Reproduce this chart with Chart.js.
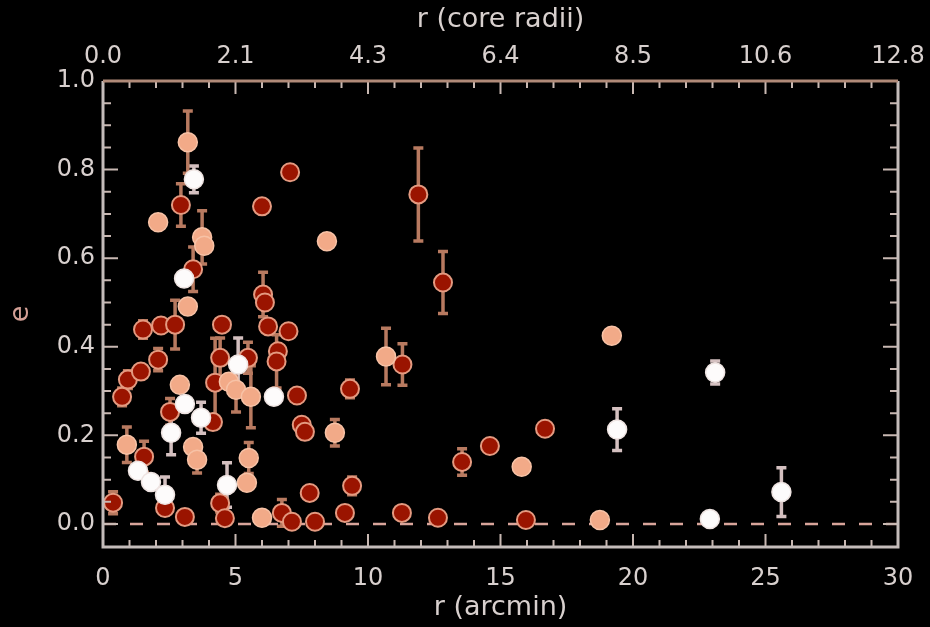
<!DOCTYPE html>
<html>
<head>
<meta charset="utf-8">
<script src="https://cdn.jsdelivr.net/npm/chart.js@4.4.1/dist/chart.umd.min.js"></script>
<style>
  html, body { margin: 0; padding: 0; background: #000; }
  #wrap { width: 930px; height: 627px; }
</style>
</head>
<body>
<div id="wrap"><canvas id="chart" width="930" height="627"></canvas></div>
<script>
// Dark red points: r (arcmin), ellipticity, error
const redR   = [0.38, 0.72, 0.94, 1.43, 1.51, 2.19, 2.72, 2.08, 1.55, 2.94, 3.40, 2.53, 3.09, 2.34, 4.42, 4.60, 4.49, 4.42, 4.23, 4.15, 5.47, 6.23, 6.04, 6.11, 7.00, 6.60, 6.55, 7.06, 6.00, 11.90, 11.30, 9.32, 7.32, 7.50, 7.62, 7.80, 9.40, 6.75, 7.13, 8.00, 9.13, 11.28, 12.64, 12.83, 13.55, 14.60, 16.68, 15.96];
const redE   = [0.048, 0.287, 0.326, 0.344, 0.439, 0.448, 0.450, 0.371, 0.152, 0.720, 0.575, 0.253, 0.016, 0.036, 0.047, 0.013, 0.450, 0.375, 0.319, 0.230, 0.375, 0.446, 0.518, 0.500, 0.435, 0.390, 0.367, 0.794, 0.717, 0.744, 0.360, 0.305, 0.290, 0.224, 0.208, 0.070, 0.086, 0.025, 0.005, 0.005, 0.025, 0.025, 0.014, 0.545, 0.140, 0.176, 0.215, 0.009];
const redErr = [0.025, 0.02, 0.02, 0, 0.02, 0, 0.055, 0.025, 0.035, 0.048, 0.05, 0.03, 0, 0.015, 0.02, 0, 0, 0.045, 0.1, 0, 0.035, 0, 0.05, 0, 0, 0, 0.06, 0, 0, 0.105, 0.047, 0.02, 0, 0, 0, 0, 0.02, 0.03, 0, 0, 0, 0, 0, 0.07, 0.03, 0, 0, 0];

// Light (salmon) points
const peachR   = [3.20, 2.08, 3.74, 3.82, 3.20, 2.90, 0.90, 3.40, 3.55, 4.75, 5.02, 5.58, 5.50, 5.43, 6.00, 8.45, 10.68, 8.75, 15.80, 19.20, 18.75];
const peachE   = [0.862, 0.681, 0.647, 0.628, 0.491, 0.314, 0.179, 0.174, 0.145, 0.321, 0.303, 0.287, 0.149, 0.093, 0.014, 0.638, 0.378, 0.206, 0.129, 0.425, 0.009];
const peachErr = [0.07, 0, 0.06, 0, 0, 0, 0.04, 0, 0.03, 0, 0.05, 0.07, 0.035, 0, 0, 0, 0.064, 0.03, 0, 0, 0];

// White points
const whiteR   = [3.43, 3.06, 3.09, 2.57, 3.70, 1.32, 1.81, 2.34, 4.68, 5.10, 6.45, 19.40, 23.10, 22.90, 25.60];
const whiteE   = [0.778, 0.554, 0.271, 0.206, 0.240, 0.120, 0.095, 0.066, 0.088, 0.360, 0.287, 0.213, 0.342, 0.011, 0.072];
const whiteErr = [0.03, 0, 0, 0.05, 0.035, 0, 0, 0.04, 0.05, 0.06, 0, 0.047, 0.026, 0, 0.055];

// Axes
const xTicks = [0, 5, 10, 15, 20, 25, 30];
const topLabels = ['0.0', '2.1', '4.3', '6.4', '8.5', '10.6', '12.8'];
const yTicks = [0, 0.2, 0.4, 0.6, 0.8, 1.0];
const xRange = [0, 30];
const yRange = [-0.052, 1.0];
const refE = 0;

const textColor = '#d8d0ce';
const tickFont = { family: 'DejaVu Sans', size: 24 };
const titleFont = { family: 'DejaVu Sans', size: 27 };

function points(rs, es) {
  return rs.map((r, i) => ({ x: r, y: es[i] }));
}

// Error bars behind the points
const errorBars = {
  id: 'errorBars',
  beforeDatasetsDraw(chart) {
    const { ctx, scales } = chart;
    ctx.save();
    chart.data.datasets.forEach(ds => {
      if (!ds.errors) return;
      ds.data.forEach((p, i) => {
        const err = ds.errors[i];
        if (!err) return;
        const x = scales.x.getPixelForValue(p.x);
        const y1 = scales.y.getPixelForValue(p.y - err);
        const y2 = scales.y.getPixelForValue(p.y + err);
        ctx.strokeStyle = ds.errorColor;
        ctx.lineWidth = 3.5;
        ctx.beginPath();
        ctx.moveTo(x, y1); ctx.lineTo(x, y2);
        ctx.moveTo(x - 5, y1); ctx.lineTo(x + 5, y1);
        ctx.moveTo(x - 5, y2); ctx.lineTo(x + 5, y2);
        ctx.stroke();
      });
    });
    ctx.restore();
  }
};

// Box frame with inward ticks
const frame = {
  id: 'frame',
  afterDraw(chart) {
    const { ctx, chartArea: a, scales } = chart;
    ctx.save();
    ctx.lineWidth = 2;
    ctx.strokeStyle = '#c8b8b2';
    for (let v = 0; v <= 30; v++) {
      const x = scales.x.getPixelForValue(v);
      const len = v % 5 === 0 ? 13 : 7;
      ctx.beginPath();
      ctx.moveTo(x, a.bottom); ctx.lineTo(x, a.bottom - len);
      ctx.moveTo(x, a.top); ctx.lineTo(x, a.top + len);
      ctx.stroke();
    }
    for (let k = 0; k <= 20; k++) {
      const y = scales.y.getPixelForValue(k * 0.05);
      const len = k % 4 === 0 ? 15 : 8;
      ctx.beginPath();
      ctx.moveTo(a.left, y); ctx.lineTo(a.left + len, y);
      ctx.moveTo(a.right, y); ctx.lineTo(a.right - len, y);
      ctx.stroke();
    }
    ctx.lineWidth = 3;
    ctx.strokeStyle = '#c4bcba';
    ctx.beginPath();
    ctx.moveTo(a.left, a.top); ctx.lineTo(a.left, a.bottom); ctx.lineTo(a.right, a.bottom); ctx.lineTo(a.right, a.top);
    ctx.stroke();
    ctx.strokeStyle = '#b08a78';
    ctx.beginPath();
    ctx.moveTo(a.left, a.top); ctx.lineTo(a.right, a.top);
    ctx.stroke();
    ctx.restore();
  }
};

function fixX(h) {
  return s => { s.height = h; s.paddingLeft = 0; s.paddingRight = 0; };
}
function fixY(w) {
  return s => { s.width = w; s.paddingTop = 0; s.paddingBottom = 0; };
}

new Chart(document.getElementById('chart'), {
  type: 'scatter',
  data: {
    datasets: [
      {
        label: 'white',
        data: points(whiteR, whiteE),
        errors: whiteErr,
        errorColor: '#d4c0c0',
        backgroundColor: '#fdfbfb',
        borderColor: '#efe4e2',
        borderWidth: 1.5,
        pointRadius: 9.5,
        order: 0
      },
      {
        label: 'light',
        data: points(peachR, peachE),
        errors: peachErr,
        errorColor: '#b87a60',
        backgroundColor: '#f2aa88',
        borderColor: '#f7c2a6',
        borderWidth: 1.5,
        pointRadius: 9.5,
        order: 1
      },
      {
        label: 'dark',
        data: points(redR, redE),
        errors: redErr,
        errorColor: '#b87a60',
        backgroundColor: '#9a1400',
        borderColor: '#e49a80',
        borderWidth: 2,
        pointRadius: 9,
        order: 2
      },
      {
        type: 'line',
        label: 'zero',
        data: xRange.map(x => ({ x: x, y: refE })),
        borderColor: '#d8a49a',
        borderWidth: 2.5,
        borderDash: [13, 14],
        pointRadius: 0,
        order: 3
      }
    ]
  },
  options: {
    responsive: false,
    animation: false,
    devicePixelRatio: 1,
    layout: { padding: 0 },
    plugins: { legend: { display: false }, tooltip: { enabled: false } },
    scales: {
      x: {
        type: 'linear', position: 'bottom', min: xRange[0], max: xRange[1],
        afterBuildTicks: s => { s.ticks = xTicks.map(v => ({ value: v })); },
        afterFit: fixX(80),
        grid: { display: false, drawTicks: false },
        border: { display: false },
        ticks: { color: textColor, font: tickFont, padding: 17, maxRotation: 0, autoSkip: false },
        title: { display: true, text: 'r (arcmin)', color: textColor, font: titleFont, padding: { top: 0, bottom: 3 } }
      },
      x2: {
        type: 'linear', position: 'top', min: xRange[0], max: xRange[1],
        afterBuildTicks: s => { s.ticks = xTicks.map(v => ({ value: v })); },
        afterFit: fixX(81),
        grid: { display: false, drawTicks: false },
        border: { display: false },
        ticks: { color: textColor, font: tickFont, padding: 10, maxRotation: 0, autoSkip: false,
                 callback: (v, i) => topLabels[i] },
        title: { display: true, text: 'r (core radii)', color: textColor, font: titleFont, padding: { top: 4, bottom: 0 } }
      },
      y: {
        type: 'linear', position: 'left', min: yRange[0], max: yRange[1],
        afterBuildTicks: s => { s.ticks = yTicks.map(v => ({ value: v })); },
        afterFit: fixY(103),
        grid: { display: false, drawTicks: false },
        border: { display: false },
        ticks: { color: textColor, font: tickFont, padding: 8, callback: v => v.toFixed(1) },
        title: { display: true, text: 'e', color: '#d4a096', font: titleFont, padding: { top: 5, bottom: 0 } }
      },
      y2: {
        type: 'linear', position: 'right', min: yRange[0], max: yRange[1],
        afterFit: fixY(32),
        grid: { display: false, drawTicks: false },
        border: { display: false },
        ticks: { display: false }
      }
    }
  },
  plugins: [errorBars, frame]
});
</script>
</body>
</html>
